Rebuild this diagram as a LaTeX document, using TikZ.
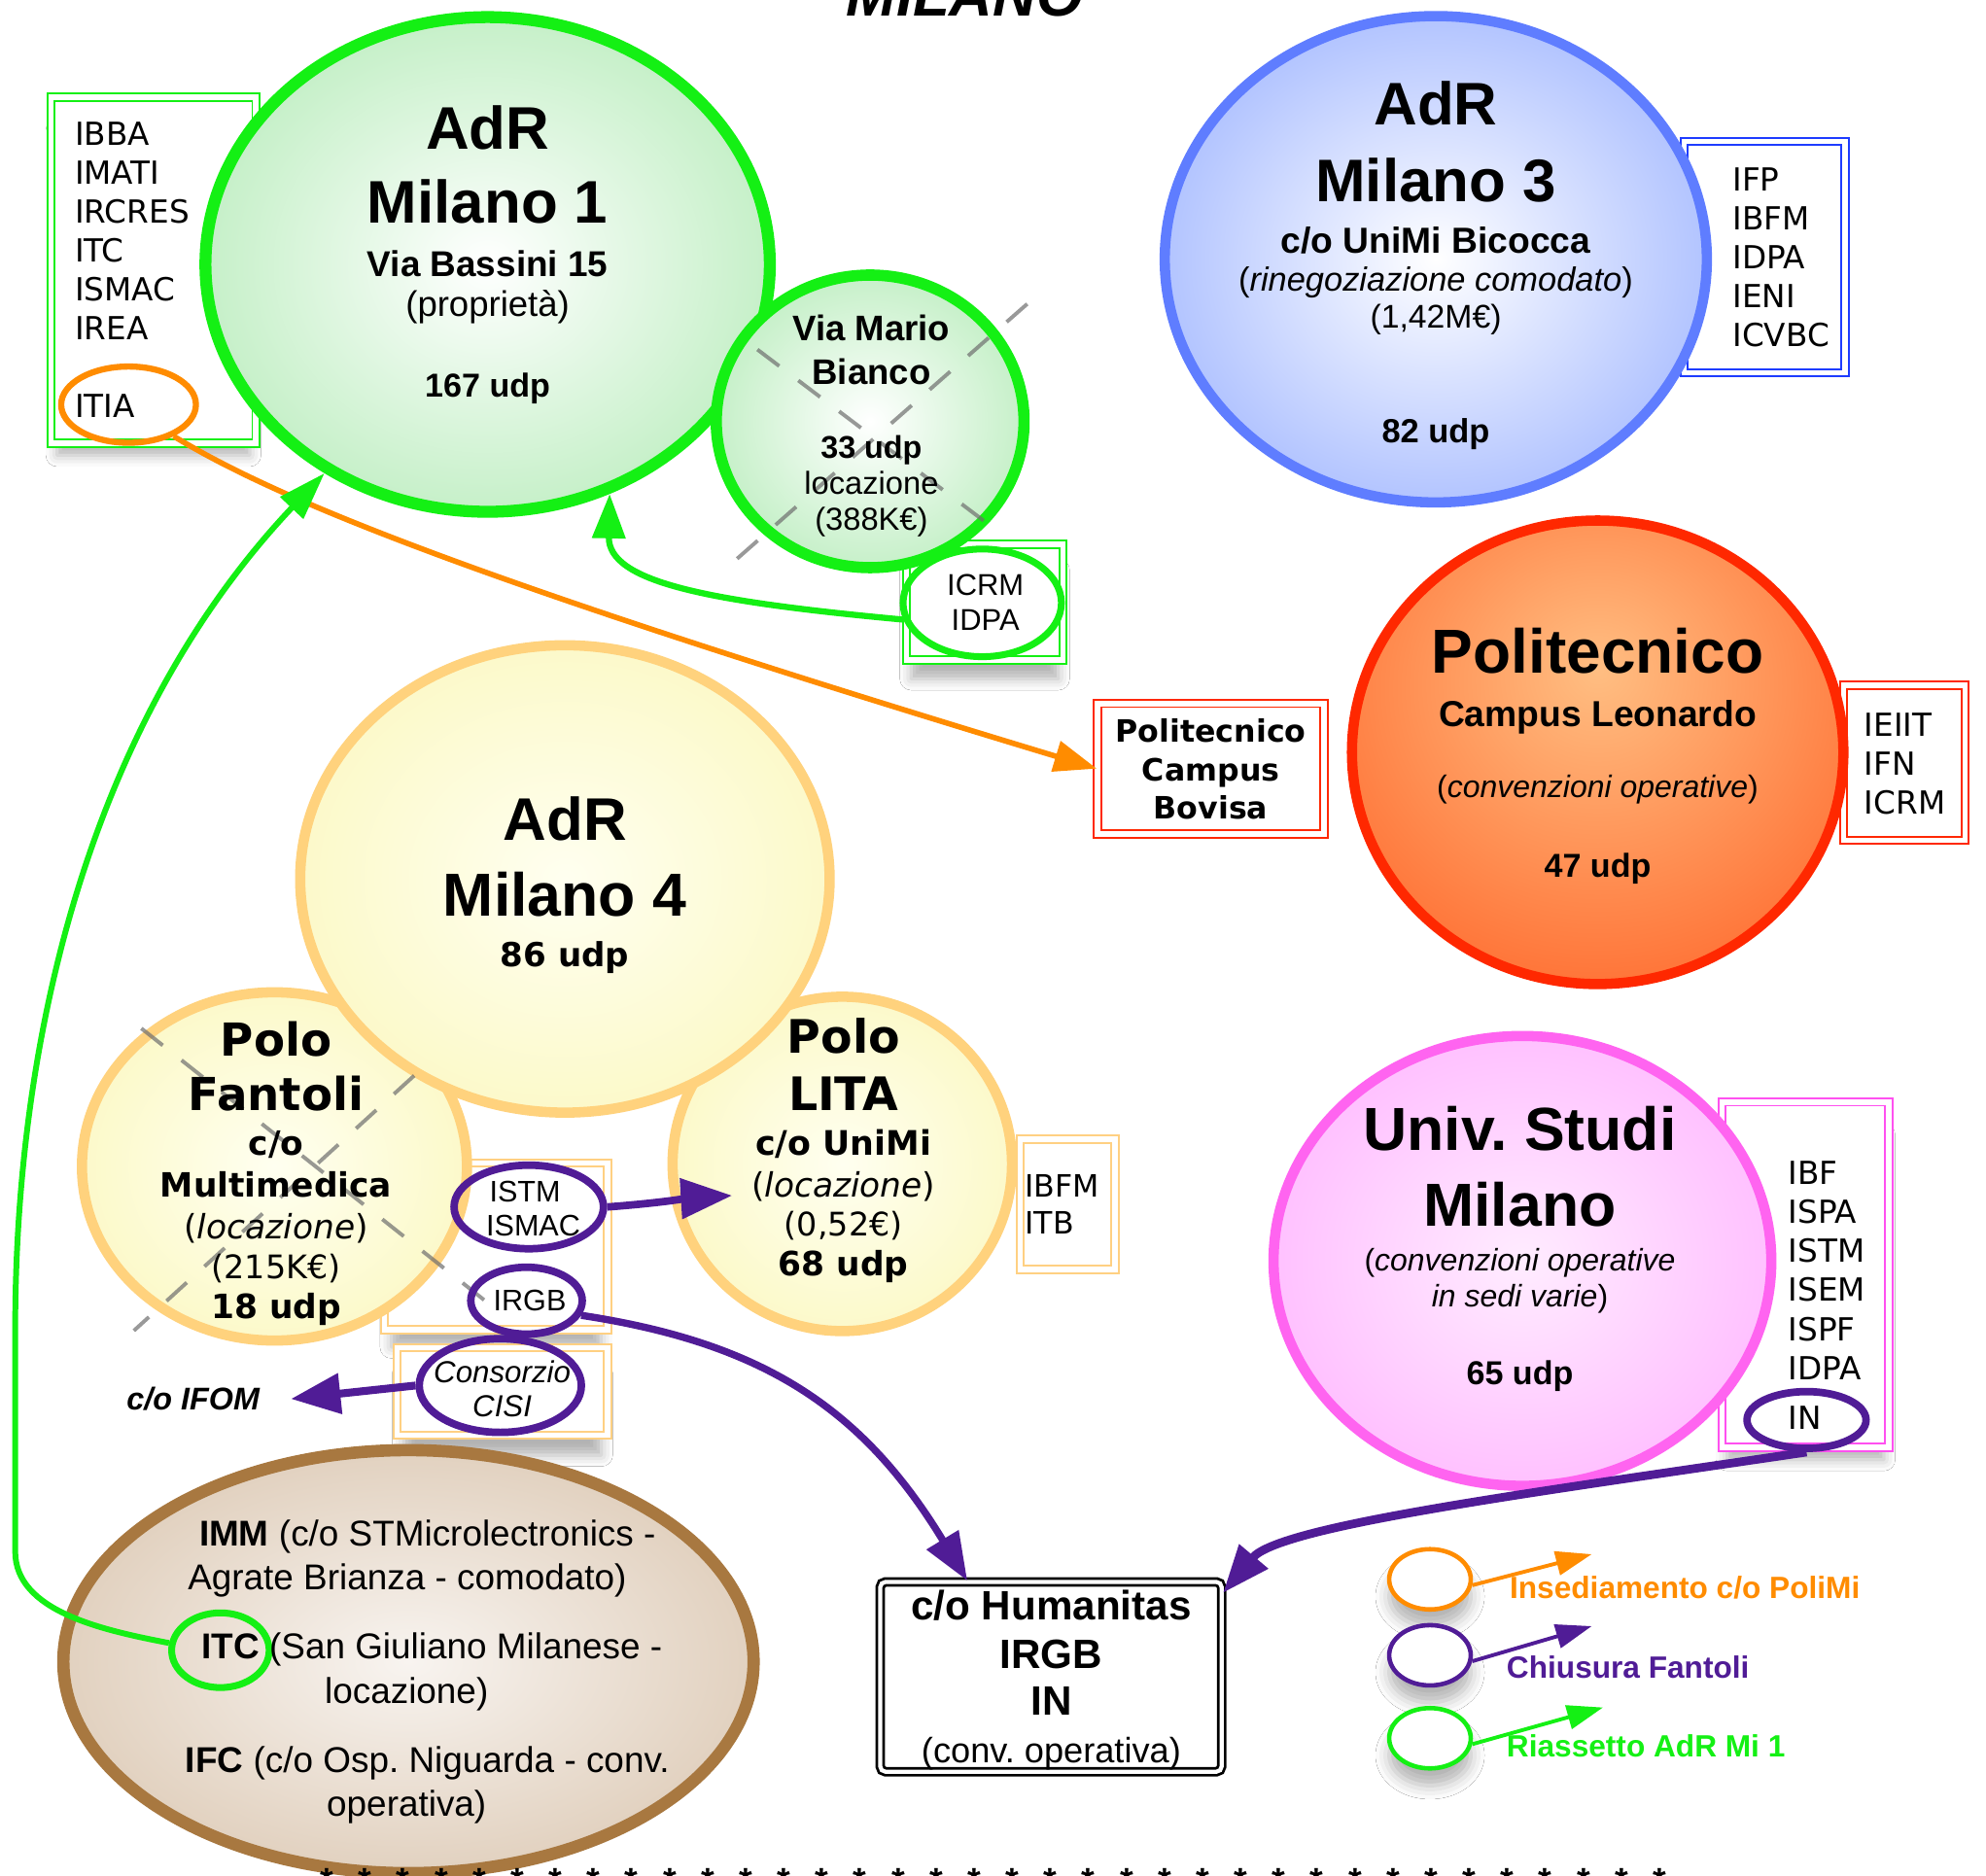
\documentclass[tikz,border=0pt]{standalone}
\usepackage{fontspec}
\setmainfont{Liberation Sans}
\newfontfamily\verd{DejaVu Sans}
\usetikzlibrary{shapes.geometric,arrows.meta,shadows.blur}
\newcommand\pxu{0.013029cm}
\newcommand\fs[1]{\fontsize{#1}{#1}\selectfont}
\frenchspacing

\definecolor{gr}{RGB}{20,240,20}
\definecolor{grfill}{RGB}{168,232,172}
\definecolor{bl}{RGB}{95,125,255}
\definecolor{blfill}{RGB}{138,165,255}
\definecolor{rd}{RGB}{255,40,0}
\definecolor{pofill}{RGB}{255,95,35}
\definecolor{poin}{RGB}{255,190,130}
\definecolor{yl}{RGB}{255,210,125}
\definecolor{ylfill}{RGB}{250,246,182}
\definecolor{ylin}{RGB}{255,255,240}
\definecolor{pk}{RGB}{255,100,240}
\definecolor{pkfill}{RGB}{255,170,255}
\definecolor{pkin}{RGB}{255,236,255}
\definecolor{br}{RGB}{168,120,64}
\definecolor{brfill}{RGB}{212,188,162}
\definecolor{brin}{RGB}{248,244,240}
\definecolor{pu}{RGB}{80,28,150}
\definecolor{og}{RGB}{255,140,0}
\definecolor{lo}{RGB}{255,208,130}
\definecolor{pkbox}{RGB}{255,80,240}
\definecolor{bbox}{RGB}{30,60,255}
\definecolor{dgray}{RGB}{110,110,110}

\pgfdeclareradialshading{shGr}{\pgfpoint{0bp}{0bp}}{color(0bp)=(white); color(38bp)=(grfill); color(75bp)=(grfill)}
\pgfdeclareradialshading{shBl}{\pgfpoint{0bp}{0bp}}{color(0bp)=(white); color(38bp)=(blfill); color(75bp)=(blfill)}
\pgfdeclareradialshading{shPo}{\pgfpoint{0bp}{9bp}}{color(0bp)=(poin); color(40bp)=(pofill); color(90bp)=(pofill)}
\pgfdeclareradialshading{shYl}{\pgfpoint{0bp}{0bp}}{color(0bp)=(ylin); color(38bp)=(ylfill); color(75bp)=(ylfill)}
\pgfdeclareradialshading{shPk}{\pgfpoint{0bp}{0bp}}{color(0bp)=(pkin); color(38bp)=(pkfill); color(75bp)=(pkfill)}
\pgfdeclareradialshading{shBr}{\pgfpoint{0bp}{0bp}}{color(0bp)=(brin); color(40bp)=(brfill); color(75bp)=(brfill)}

% box: name, colour, x1, y1, x2, y2, extra
\newcommand\dbox[7]{\node[dbl,draw=#2,#7,minimum width={(#5-#3-7.3)*\pxu},minimum height={(#6-#4-7.3)*\pxu}] (#1) at ({(#3+#5)/2},{(#4+#6)/2}) {};}
% big ellipse: name, options, x, y, rx, ry
\newcommand\ellnode[6]{\node[ell,#2,minimum width={2*#5*\pxu},minimum height={2*#6*\pxu}] (#1) at (#3,#4) {};}
% small ellipse: name, options, x, y, rx, ry
\newcommand\smnode[6]{\node[sme,#2,minimum width={2*#5*\pxu},minimum height={2*#6*\pxu}] (#1) at (#3,#4) {};}

\begin{document}
\begin{tikzpicture}[x=0.013029cm,y=-0.013029cm,
  t/.style={anchor=base,inner sep=0pt,outer sep=0pt},
  tl/.style={anchor=base west,inner sep=0pt,outer sep=0pt},
  ell/.style={ellipse,shade,inner sep=0pt},
  sme/.style={ellipse,draw,inner sep=0pt},
  dbl/.style={rectangle,fill=white,double=white,line width=0.55pt,double distance=1.6pt,inner sep=0pt},
  shd/.style={blur shadow={shadow xshift=0pt,shadow yshift=-7pt,shadow scale=0.94,shadow blur radius=3.5pt,shadow opacity=30}},
  eshd/.style={blur shadow={shadow xshift=0pt,shadow yshift=-5pt,shadow blur radius=4pt,shadow opacity=30}},
  xline/.style={draw=dgray,opacity=0.7,line width=1.1pt,dash pattern=on 8pt off 7pt},
  lst/.style={tl,font=\verd\fs{9.3}},
  hv/.style={t,font=\bfseries\fs{17.6}},
  ptip/.style={-{Triangle[length=14pt,width=10.5pt]}},
]
\useasboundingbox (0,0) rectangle (1568,1481);
\fill[white] (0,0) rectangle (1568,1481);
\clip (0,0) rectangle (1568,1481);

% ---------- side boxes ----------
\dbox{boxA}{gr}{36.6}{73}{205.7}{353.6}{shd}
\dbox{boxB}{bbox}{1326}{108}{1460.5}{298}{}
\dbox{boxC}{gr}{712}{426}{843}{524.7}{shd}
\dbox{bovisa}{rd}{863}{551.8}{1049}{662}{}
\dbox{boxD}{rd}{1452}{537.6}{1555}{667.2}{}
\dbox{boxE}{lo}{801.7}{896}{884}{1006}{}
\dbox{boxF}{lo}{300}{914.6}{483.5}{1053.5}{shd}
\dbox{boxG}{lo}{310}{1060.4}{483.5}{1137}{shd}
\dbox{boxH}{pkbox}{1356}{866.5}{1495}{1146.6}{shd}
\node[rectangle,draw=black,fill=white,double=white,line width=0.8pt,double distance=1.2pt,rounded corners=1.5pt,inner sep=0pt,
  minimum width={(968.3-691.2-7.6)*\pxu},minimum height={(1402.7-1245.3-7.6)*\pxu}] (hum) at ({(691.2+968.3)/2},{(1245.3+1402.7)/2}) {};

% ---------- big ellipses ----------
\ellnode{m1}{draw=gr,line width=3.5pt,shading=shGr}{385}{208.8}{222.8}{195.3}
\ellnode{vmb}{draw=gr,line width=3.3pt,shading=shGr}{687}{332.7}{121.5}{115.5}
\ellnode{m3}{draw=bl,line width=3pt,shading=shBl}{1133.6}{204.7}{214}{192}
\ellnode{poli}{draw=rd,line width=3pt,shading=shPo}{1261.4}{594}{194}{183}
\ellnode{fan}{draw=yl,line width=3pt,shading=shYl}{216.7}{921}{152}{137.5}
\ellnode{lita}{draw=yl,line width=3pt,shading=shYl}{665}{919}{134}{132}
\ellnode{m4}{draw=yl,line width=3pt,shading=shYl}{446}{694}{209}{184.5}
\ellnode{univ}{draw=pk,line width=3pt,shading=shPk}{1202}{995.6}{196.5}{177.6}
\ellnode{brown}{draw=br,line width=3.6pt,shading=shBr}{322.5}{1312}{272.5}{167}

% ---------- crossing-out lines ----------
\draw[xline] (598,276) -- (791,422);
\draw[xline] (811,240) -- (568.7,452.8);
\draw[xline] (111.6,812) -- (387.6,1030.7);
\draw[xline] (327,849.3) -- (105.7,1050.7);

% ---------- small ellipses ----------
\smnode{itia}{draw=og,line width=1.8pt}{101.5}{319.5}{53.2}{30.1}
\smnode{icrm}{draw=gr,line width=2pt}{775.5}{476}{62.5}{42.5}
\smnode{istm}{draw=pu,line width=2.2pt}{417.5}{953}{59}{33}
\smnode{irgb}{draw=pu,line width=2.2pt}{415.7}{1027}{44}{26.4}
\smnode{cisi}{draw=pu,line width=2.2pt}{395}{1094}{64}{37}
\smnode{inel}{draw=pu,line width=2.2pt}{1426.3}{1121.2}{47}{22.4}
\smnode{itc}{draw=gr,line width=2pt}{174}{1303}{38.5}{29.5}
\smnode{lg1}{draw=og,line width=1.3pt,fill=white,eshd}{1129}{1247}{32.2}{23.8}
\smnode{lg2}{draw=pu,line width=1.3pt,fill=white,eshd}{1129}{1307}{32.2}{23.8}
\smnode{lg3}{draw=gr,line width=1.3pt,fill=white,eshd}{1129}{1372.5}{32.2}{23.8}

% ---------- free arrow ends ----------
\coordinate (litaIn) at (578,944);
\coordinate (lgt1) at (1256.7,1227.2);
\coordinate (lgt2) at (1256.7,1284);
\coordinate (lgt3) at (1265.6,1348.2);

% ---------- texts ----------
\node[t,font=\bfseries\itshape\fs{17.6}] (title) at (761.7,12.5) {MILANO};

\node[hv] (m1a) at (385,117.5) {AdR};
\node[hv] (m1b) at (385,176) {Milano 1};
\node[t,font=\bfseries\fs{10.5}] (m1c) at (385,218) {Via Bassini 15};
\node[t,font=\fs{10.4}] (m1d) at (385,249.6) {(propriet\`a)};
\node[t,font=\bfseries\fs{9.7}] (m1e) at (385,313.4) {167 udp};

\foreach \w [count=\i] in {IBBA,IMATI,IRCRES,ITC,ISMAC,IREA}
  \node[lst] (la\i) at (59.2,{114.8+30.7*(\i-1)}) {\w};
\node[lst] (la7) at (59.2,330) {ITIA};

\node[t,font=\bfseries\fs{10.4}] (vm1) at (688,269.2) {Via Mario};
\node[t,font=\bfseries\fs{10.4}] (vm2) at (688,303.5) {Bianco};
\node[t,font=\bfseries\fs{9.2}] (vm3) at (688,362) {33 udp};
\node[t,font=\fs{9.3}] (vm4) at (688,390) {locazione};
\node[t,font=\fs{9.3}] (vm5) at (688,418.5) {(388K€)};

\node[t,font=\fs{8.8}] (ic1) at (778,469.8) {ICRM};
\node[t,font=\fs{8.8}] (ic2) at (778,497.8) {IDPA};

\node[hv] (m3a) at (1133.6,99) {AdR};
\node[hv] (m3b) at (1133.6,159) {Milano 3};
\node[t,font=\bfseries\fs{10.6}] (m3c) at (1133.6,200) {c/o UniMi Bicocca};
\node[t,font=\fs{9.8}] (m3d) at (1133.6,229.5) {(\textit{rinegoziazione comodato})};
\node[t,font=\fs{9.6}] (m3e) at (1133.6,258.7) {(1,42M€)};
\node[t,font=\bfseries\fs{9.8}] (m3f) at (1133.6,349.5) {82 udp};
\foreach \w [count=\i] in {IFP,IBFM,IDPA,IENI,ICVBC}
  \node[lst] (lb\i) at (1368,{150.7+30.8*(\i-1)}) {\w};

\node[t,font=\verd\bfseries\fs{9}] (bv1) at (956,586) {Politecnico};
\node[t,font=\verd\bfseries\fs{9}] (bv2) at (956,617) {Campus};
\node[t,font=\verd\bfseries\fs{9}] (bv3) at (956,646.4) {Bovisa};

\node[t,font=\bfseries\fs{18.2}] (po1) at (1261.4,531.8) {Politecnico};
\node[t,font=\bfseries\fs{10.6}] (po2) at (1261.4,573.7) {Campus Leonardo};
\node[t,font=\fs{9.1}] (po3) at (1261.4,630) {(\textit{convenzioni operative})};
\node[t,font=\bfseries\fs{9.7}] (po4) at (1261.4,692.7) {47 udp};
\foreach \w [count=\i] in {IEIIT,IFN,ICRM}
  \node[lst] (ld\i) at (1472,{581.7+30.35*(\i-1)}) {\w};

\node[hv] (m4a) at (446,663.3) {AdR};
\node[t,font=\bfseries\fs{17.8}] (m4b) at (446,723.4) {Milano 4};
\node[t,font=\verd\bfseries\fs{9.7}] (m4c) at (446,763) {86 udp};

\node[t,font=\verd\bfseries\fs{13.3}] (fa1) at (218,833.6) {Polo};
\node[t,font=\verd\bfseries\fs{13.3}] (fa2) at (218,876.5) {Fantoli};
\node[t,font=\verd\bfseries\fs{9.8}] (fa3) at (218,911.8) {c/o};
\node[t,font=\verd\bfseries\fs{9.8}] (fa4) at (218,945) {Multimedica};
\node[t,font=\verd\fs{9.8}] (fa5) at (218,978.5) {(\textit{locazione})};
\node[t,font=\verd\fs{9.5}] (fa6) at (218,1010) {(215K€)};
\node[t,font=\verd\bfseries\fs{9.8}] (fa7) at (218,1041) {18 udp};

\node[t,font=\verd\bfseries\fs{13.5}] (li1) at (666,831.7) {Polo};
\node[t,font=\verd\bfseries\fs{13.5}] (li2) at (666,876.5) {LITA};
\node[t,font=\verd\bfseries\fs{9.9}] (li3) at (666,911.8) {c/o UniMi};
\node[t,font=\verd\fs{9.8}] (li4) at (666,945) {(\textit{locazione})};
\node[t,font=\verd\fs{9.5}] (li5) at (666,976) {(0,52€)};
\node[t,font=\verd\bfseries\fs{9.8}] (li6) at (666,1007.6) {68 udp};
\node[lst,font=\verd\fs{9}] (le1) at (809.4,945.2) {IBFM};
\node[lst,font=\verd\fs{9}] (le2) at (809.4,974.7) {ITB};

\node[t,font=\fs{8.7}] (is1) at (414.5,949) {ISTM};
\node[t,font=\fs{8.7}] (is2) at (421,976) {ISMAC};
\node[t,font=\fs{8.7}] (ir1) at (418.3,1034.7) {IRGB};
\node[t,font=\itshape\fs{8.9}] (ci1) at (396.5,1092) {Consorzio};
\node[t,font=\itshape\fs{8.9}] (ci2) at (396.5,1119) {CISI};
\node[t,font=\bfseries\itshape\fs{9.2},inner xsep=9.2pt] (ifom) at (152.5,1113.3) {c/o IFOM};

\node[t,font=\bfseries\fs{17.8}] (un1) at (1200,908.6) {Univ. Studi};
\node[t,font=\bfseries\fs{17.8}] (un2) at (1200,968) {Milano};
\node[t,font=\fs{9.1}] (un3) at (1200,1003.3) {(\textit{convenzioni operative}};
\node[t,font=\fs{9.1}] (un4) at (1200,1032) {\textit{in sedi varie})};
\node[t,font=\bfseries\fs{9.7}] (un5) at (1200,1093.6) {65 udp};
\foreach \w [count=\i] in {IBF,ISPA,ISTM,ISEM,ISPF,IDPA}
  \node[lst] (lh\i) at (1412,{935+30.85*(\i-1)}) {\w};
\node[lst] (lh7) at (1412,1128.9) {IN};

\node[t,font=\fs{10.5}] (br1) at (337.5,1220.7) {\textbf{IMM} (c/o STMicrolectronics -};
\node[t,font=\fs{10.5}] (br2) at (321.5,1255.6) {Agrate Brianza - comodato)};
\node[t,font=\fs{10.5}] (br3) at (341,1310) {\textbf{ITC} (San Giuliano Milanese -};
\node[t,font=\fs{10.5}] (br4) at (321,1345) {locazione)};
\node[t,font=\fs{10.5}] (br5) at (337.5,1399.4) {\textbf{IFC} (c/o Osp. Niguarda - conv.};
\node[t,font=\fs{10.5}] (br6) at (321,1434.4) {operativa)};

\node[t,font=\bfseries\fs{12}] (hu1) at (830,1279.1) {c/o Humanitas};
\node[t,font=\bfseries\fs{12}] (hu2) at (830,1317.5) {IRGB};
\node[t,font=\bfseries\fs{12}] (hu3) at (830,1354.6) {IN};
\node[t,font=\fs{10.3}] (hu4) at (830,1391.7) {(conv. operativa)};

\node[tl,font=\bfseries\fs{9},text=og] (lx1) at (1192,1262.5) {Insediamento c/o PoliMi};
\node[tl,font=\bfseries\fs{9},text=pu] (lx2) at (1189.6,1325) {Chiusura Fantoli};
\node[tl,font=\bfseries\fs{9},text=gr] (lx3) at (1189.6,1387.6) {Riassetto AdR Mi 1};

\foreach \i in {0,...,35}
  \node[t,font=\bfseries\fs{10}] (st\i) at ({258.2+30.06*\i},1493.7) {*};

% ---------- connectors ----------
\draw[og,line width=1.6pt,-{Triangle[length=12.5pt,width=9pt]}]
  (itia.-35) .. controls (220,395) and (380,460) .. (bovisa.west);
\draw[gr,line width=1.7pt,-{Triangle[length=14pt,width=9pt]}]
  (itc.172) .. controls (80,1287) and (12,1272) .. (12,1225) -- (12,1050)
  .. controls (12,800) and (80,560) .. (m1.232);
\draw[gr,line width=1.8pt,-{Triangle[length=13pt,width=9.5pt]}]
  (icrm.192) .. controls (560,475) and (480,460) .. (m1.-62);
\draw[pu,line width=2.2pt,-{Triangle[length=15pt,width=11.5pt]}]
  (istm.east) .. controls (520,950) and (545,946) .. (litaIn);
\draw[pu,line width=2.1pt,ptip]
  (irgb.-15) .. controls (600,1060) and (680,1110) .. (hum.131.5);
\draw[pu,line width=2.5pt,ptip]
  (inel.south) .. controls (1200,1180) and (1010,1205) .. (hum.26);
\draw[pu,line width=2.3pt,-{Triangle[length=14.5pt,width=11.5pt]}]
  (cisi.west) -- (ifom.east);
\draw[og,line width=1.1pt,-{Triangle[length=10.5pt,width=7pt]}] (lg1.-8) -- (lgt1);
\draw[pu,line width=1.1pt,-{Triangle[length=10.5pt,width=7pt]}] (lg2.-8) -- (lgt2);
\draw[gr,line width=1.1pt,-{Triangle[length=10.5pt,width=7pt]}] (lg3.-8) -- (lgt3);
\end{tikzpicture}
\end{document}
